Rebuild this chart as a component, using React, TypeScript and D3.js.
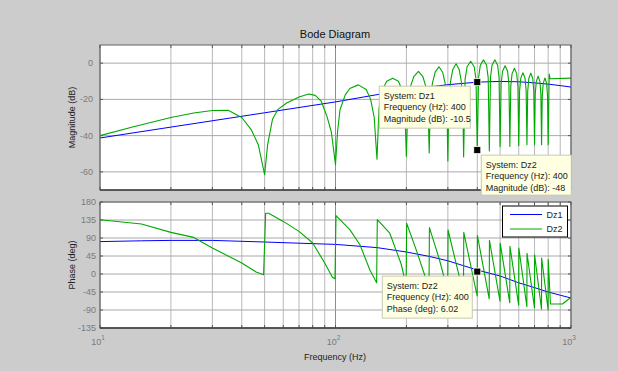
import React from "react";
import * as d3 from "d3";

// ---------- data ----------
const dz1MagFreq = [10, 20, 50, 100, 150, 200, 250, 300, 400, 500, 600, 700, 800, 900, 1000];
const dz1Mag = [-41.3, -35.3, -27.4, -21.4, -17.4, -14.9, -13.1, -11.9, -10.5, -10.1, -10.3, -10.9, -11.6, -12.4, -13.2];

const dz2MagFreq = [
  10, 14, 20, 25, 30, 35, 40, 44, 47, 50,
  51.5, 54, 57, 62, 70, 77, 82, 87, 92, 96, 100,
  102, 104.5, 110, 115, 125, 135, 141, 146, 150,
  153, 158, 165, 175, 185, 192, 197, 200,
  203, 208, 215, 225, 235, 242, 247, 250,
  253, 258, 265, 275, 285, 292, 297, 300,
  303, 308, 315, 325, 335, 342, 347, 350,
  355, 362, 375, 388, 395, 400,
  405, 412, 425, 438, 445, 450,
  455, 462, 475, 488, 495, 500,
  505, 512, 525, 538, 545, 550,
  555, 562, 575, 588, 595, 600,
  605, 612, 625, 638, 645, 650,
  655, 662, 675, 688, 695, 700,
  705, 712, 725, 738, 745, 750,
  755, 762, 775, 788, 795, 800,
  808, 815, 1000,
];
const dz2Mag = [
  -40, -35, -30, -27.5, -26.1, -26, -30, -37, -45, -61.5,
  -45, -31, -25.5, -22, -18.7, -17, -17.8, -21, -29.4, -38, -56,
  -38, -25.7, -17.5, -14, -12, -14.5, -20, -30, -53,
  -25, -15, -10, -8.3, -10, -15, -26, -51.4,
  -22, -13, -7.5, -4.6, -7.5, -13, -24, -49.6,
  -20, -11, -5, -2, -5, -11, -22, -54,
  -19, -10, -3.5, -0.4, -3.5, -10, -20, -51.8,
  -9, -2, 1.0, -2, -9, -48,
  -8, -1.2, 1.8, -1.2, -8, -48.5,
  -8, -1.2, 1.8, -1.2, -8, -46,
  -11.5, -4.5, -1.5, -4.5, -11.5, -46,
  -12.8, -5.8, -2.8, -5.8, -12.8, -45.5,
  -15.3, -8.3, -5.3, -8.3, -15.3, -45,
  -15.5, -8.5, -5.5, -8.5, -15.5, -45,
  -17.2, -10.2, -7.2, -10.2, -17.2, -45,
  -18.2, -11.2, -8.2, -11.2, -18.2, -45,
  -6, -8.6, -8.3,
];

const dz1PhaseFreq = [10, 15, 20, 30, 50, 70, 100, 150, 200, 250, 300, 400, 500, 600, 700, 800, 900, 1000];
const dz1Phase = [81, 83, 84, 84, 80, 77, 74, 66, 55, 44, 33, 10, -5, -22, -34, -45, -53, -60];

const dz2PhaseFreq = [
  10, 15, 20, 25, 30, 40, 46, 49.5,
  50.5, 52, 60, 70, 80, 90, 97, 99.5,
  100.5, 115, 127, 140, 149.5,
  150.5, 170, 190, 199.5,
  200.5, 220, 249.5,
  250.5, 275, 299.5,
  300.5, 349.5,
  350.5, 399.5, 400,
  400.5, 449.5, 450.5, 499.5, 500.5, 549.5, 550.5, 599.5, 600.5, 649.5,
  650.5, 699.5, 700.5, 749.5, 750.5, 799.5, 800.5,
  818, 920, 1000,
];
const dz2Phase = [
  135.7, 125, 104, 91.5, 65, 27.5, 5, -2,
  152, 152, 131.5, 106.5, 77.5, 27.5, -8, -12,
  146, 111, 73, 10, -22,
  136, 102, 25, -28,
  127, 61, -35,
  116, 40, -42,
  110, -50,
  104, -55, 6.02,
  96, -62, 84, -68, 77, -72, 69, -78, 65, -82,
  52, -85, 48, -88, 40, -90, 36,
  -75, -75, -58,
];

const magTicks = [-60, -40, -20, 0];
const phaseTicks = [-135, -90, -45, 0, 45, 90, 135, 180];
const decadeTicks = [10, 100, 1000];
const seriesNames = ["Dz1", "Dz2"];
const tipFreq = 400;
const tipDz1Mag = -10.5;
const tipDz2Mag = -48;
const tipDz2Phase = 6.02;

// ---------- layout ----------
const W = 618;
const H = 371;
const L = 100;
const R = 571;
const magTop = 45;
const magBot = 190;
const phTop = 202;
const phBot = 328;
const FONT = "'Liberation Sans', Arial, Helvetica, sans-serif";
const BLUE = "#0000ff";
const GREEN = "#00a800";

export default function App() {
  const x = d3.scaleLog().domain([10, 1000]).range([L, R]);
  const yMag = d3.scaleLinear().domain([-70, 10]).range([magBot, magTop]);
  const yPh = d3.scaleLinear().domain([-135, 180]).range([phBot, phTop]);

  const minor: number[] = [];
  for (const dec of [10, 100]) for (let k = 2; k <= 9; k++) minor.push(dec * k);

  const mkLine = (ys: d3.ScaleLinear<number, number>, fs: number[], vs: number[]) =>
    d3.line<number>().x((_, i) => x(fs[i])).y((v) => ys(v))(vs) || "";

  const grid = (top: number, bot: number, ys: d3.ScaleLinear<number, number>, ticks: number[]) => (
    <g>
      {minor.map((f) => (
        <line key={"m" + f} x1={x(f)} x2={x(f)} y1={top} y2={bot} stroke="#b8b8b8" strokeWidth={1} />
      ))}
      {decadeTicks.map((f) => (
        <line key={"d" + f} x1={x(f)} x2={x(f)} y1={top} y2={bot} stroke="#8c8c8c" strokeWidth={1} />
      ))}
      {ticks.map((t) => (
        <line key={"h" + t} x1={L} x2={R} y1={ys(t)} y2={ys(t)} stroke="#a8a8a8" strokeWidth={1} />
      ))}
      {[...minor, ...decadeTicks].map((f) => (
        <g key={"t" + f}>
          <line x1={x(f)} x2={x(f)} y1={bot} y2={bot - 3} stroke="#555" />
          <line x1={x(f)} x2={x(f)} y1={top} y2={top + 3} stroke="#555" />
        </g>
      ))}
      {ticks.map((t) => (
        <g key={"yt" + t}>
          <line x1={L} x2={L + 3} y1={ys(t)} y2={ys(t)} stroke="#555" />
          <line x1={R} x2={R - 3} y1={ys(t)} y2={ys(t)} stroke="#555" />
        </g>
      ))}
    </g>
  );

  const tipBox = (left: number, top: number, w: number, h: number, lines: string[]) => (
    <g>
      <rect x={left} y={top} width={w} height={h} fill="#ffffe1" stroke="#c9c9b0" strokeWidth={1} />
      {lines.map((s, i) => (
        <text key={i} x={left + 4.5} y={top + 13 + i * 11.3} fontSize={9} fontFamily={FONT} fill="#222">
          {s}
        </text>
      ))}
    </g>
  );

  const marker = (cx: number, cy: number) => (
    <rect x={cx - 3.5} y={cy - 3.5} width={7} height={7} fill="#000" stroke="#fffff0" strokeWidth={0.8} />
  );

  const mx = x(tipFreq);
  const m1y = yMag(tipDz1Mag);
  const m2y = yMag(tipDz2Mag);
  const p2y = yPh(tipDz2Phase);

  return (
    <svg
      width={W}
      height={H}
      style={{ position: "absolute", left: 0, top: 0, background: "#cccccc" }}
      fontFamily={FONT}
    >
      <rect x={0} y={0} width={W} height={H} fill="#cccccc" />
      <text x={335} y={38} textAnchor="middle" fontSize={11} fill="#111">
        Bode Diagram
      </text>

      <defs>
        <clipPath id="cm">
          <rect x={L} y={magTop} width={R - L} height={magBot - magTop} />
        </clipPath>
        <clipPath id="cp">
          <rect x={L} y={phTop} width={R - L} height={phBot - phTop} />
        </clipPath>
      </defs>

      {/* magnitude axes */}
      <rect x={L} y={magTop} width={R - L} height={magBot - magTop} fill="#fff" />
      {grid(magTop, magBot, yMag, magTicks)}
      <g clipPath="url(#cm)">
        <path d={mkLine(yMag, dz1MagFreq, dz1Mag)} fill="none" stroke={BLUE} strokeWidth={1} />
        <path d={mkLine(yMag, dz2MagFreq, dz2Mag)} fill="none" stroke={GREEN} strokeWidth={1.1} strokeLinejoin="round" />
      </g>
      <rect x={L} y={magTop} width={R - L} height={magBot - magTop} fill="none" stroke="#606060" strokeWidth={1} />
      <line x1={L} x2={R} y1={magBot} y2={magBot} stroke="#404040" strokeWidth={1.5} />
      {magTicks.map((t) => (
        <text key={t} x={93} y={yMag(t) + 3} textAnchor="end" fontSize={9} fill="#7a7a7a">
          {t}
        </text>
      ))}
      <text transform={`translate(75,${(magTop + magBot) / 2}) rotate(-90)`} textAnchor="middle" fontSize={9} fill="#222">
        Magnitude (dB)
      </text>

      {/* phase axes */}
      <rect x={L} y={phTop} width={R - L} height={phBot - phTop} fill="#fff" />
      {grid(phTop, phBot, yPh, phaseTicks)}
      <g clipPath="url(#cp)">
        <path d={mkLine(yPh, dz1PhaseFreq, dz1Phase)} fill="none" stroke={BLUE} strokeWidth={1} />
        <path d={mkLine(yPh, dz2PhaseFreq, dz2Phase)} fill="none" stroke={GREEN} strokeWidth={1.1} strokeLinejoin="round" />
      </g>
      <rect x={L} y={phTop} width={R - L} height={phBot - phTop} fill="none" stroke="#606060" strokeWidth={1} />
      <line x1={L} x2={R} y1={phBot} y2={phBot} stroke="#404040" strokeWidth={1.5} />
      {phaseTicks.map((t) => (
        <text key={t} x={96} y={yPh(t) + 3} textAnchor="end" fontSize={9} fill="#7a7a7a">
          {t}
        </text>
      ))}
      <text transform={`translate(75,${(phTop + phBot) / 2}) rotate(-90)`} textAnchor="middle" fontSize={9} fill="#222">
        Phase (deg)
      </text>

      {/* x tick labels */}
      {decadeTicks.map((f) => (
        <text key={f} x={x(f) - 2} y={345} textAnchor="middle" fontSize={9} fill="#7a7a7a">
          10
          <tspan dy={-5} fontSize={6.5}>
            {Math.round(Math.log10(f))}
          </tspan>
        </text>
      ))}
      <text x={335} y={360} textAnchor="middle" fontSize={9} fill="#222">
        Frequency  (Hz)
      </text>

      {/* legend */}
      <rect x={502.5} y={206} width={65} height={31} fill="#fff" stroke="#000" strokeWidth={1} />
      {seriesNames.map((n, i) => (
        <g key={n}>
          <line x1={510} x2={542} y1={214.5 + i * 14.5} y2={214.5 + i * 14.5} stroke={i === 0 ? BLUE : GREEN} strokeWidth={1} />
          <text x={546.5} y={217.5 + i * 14.5} fontSize={9} fill="#222">
            {n}
          </text>
        </g>
      ))}

      {/* data tips */}
      {tipBox(mx - 98, m1y + 4, 91, 42, ["System: Dz1", `Frequency (Hz): ${tipFreq}`, `Magnitude (dB): ${tipDz1Mag}`])}
      {tipBox(mx + 4, m2y + 5, 90, 40, ["System: Dz2", `Frequency (Hz): ${tipFreq}`, `Magnitude (dB): ${tipDz2Mag}`])}
      {tipBox(mx - 95, p2y + 4.5, 90, 42, ["System: Dz2", `Frequency (Hz): ${tipFreq}`, `Phase (deg): ${tipDz2Phase}`])}
      {marker(mx, m1y)}
      {marker(mx, m2y)}
      {marker(mx, p2y)}
    </svg>
  );
}
